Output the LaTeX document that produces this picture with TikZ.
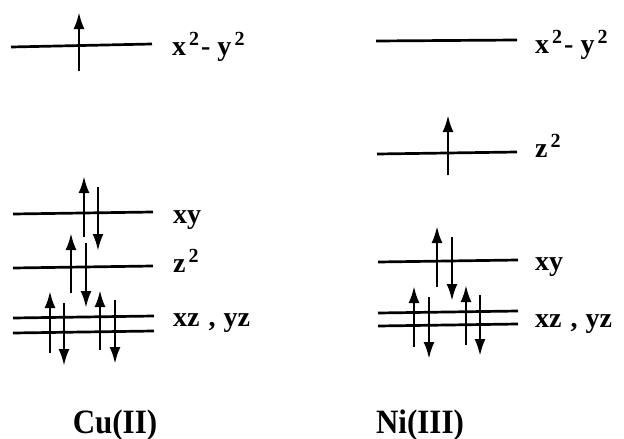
\documentclass[tikz,border=0pt]{standalone}
\usepackage{fontspec}
\setmainfont{Liberation Serif}
\usetikzlibrary{arrows.meta}
\newcommand{\supx}[1]{\hspace{3pt}\raisebox{10pt}{\fontsize{20}{20}\selectfont\bfseries #1}}
\begin{document}
\begin{tikzpicture}[x=1pt,y=-1pt,
  level/.style={line width=2.7pt},
  spin/.style={line width=2.7pt,-{Latex[length=17pt,width=11pt]}},
  lab/.style={anchor=base west,inner sep=0pt,font=\fontsize{28}{30}\selectfont\bfseries},
  ion/.style={anchor=base,inner sep=0pt,font=\fontsize{31}{34}\selectfont\bfseries,yscale=1.1}]
\useasboundingbox (0,0) rectangle (624,439);
% ---- Cu(II) ----
\draw[level] (11,47) -- (152,44);
\draw[spin] (79,71) -- (79,12);
\node[lab] (cx) at (172,55) {x\supx{2}\hspace{2pt}- y\supx{2}};
\draw[level] (13,214) -- (153,212);
\draw[spin] (84,237) -- (84,176);
\draw[spin] (98,187) -- (98,251);
\node[lab] (cxy) at (173,223) {xy};
\draw[level] (13,268) -- (153,266);
\draw[spin] (71,293) -- (71,233);
\draw[spin] (86,243) -- (86,308);
\node[lab] (cz) at (173,272) {z\supx{2}};
\draw[level] (13,318) -- (154,316);
\draw[level] (13,333) -- (154,331);
\draw[spin] (50,353) -- (50,291);
\draw[spin] (64,303) -- (64,366);
\draw[spin] (100,350) -- (100,290);
\draw[spin] (115,300) -- (115,364);
\node[lab] (cxz) at (173,326) {xz\hspace{9pt},\hspace{8pt}yz};
\node[ion] (cu) at (115,433) {Cu(II)};
% ---- Ni(III) ----
\draw[level] (376,41) -- (517,40);
\node[lab] (nx) at (535,53) {x\supx{2}\hspace{2pt}- y\supx{2}};
\draw[level] (377,154) -- (517,152);
\draw[spin] (448,175) -- (448,115);
\node[lab] (nz) at (535,157) {z\supx{2}};
\draw[level] (378,262) -- (518,260);
\draw[spin] (437,287) -- (437,226);
\draw[spin] (452,237) -- (452,301);
\node[lab] (nxy) at (535,270) {xy};
\draw[level] (378,313) -- (518,311);
\draw[level] (378,326) -- (518,324);
\draw[spin] (414,347) -- (414,286);
\draw[spin] (429,297) -- (429,359);
\draw[spin] (466,345) -- (466,285);
\draw[spin] (480,295) -- (480,356);
\node[lab] (nxz) at (535,327) {xz\hspace{9pt},\hspace{8pt}yz};
\node[ion] (ni) at (420,433) {Ni(III)};
\end{tikzpicture}
\end{document}
